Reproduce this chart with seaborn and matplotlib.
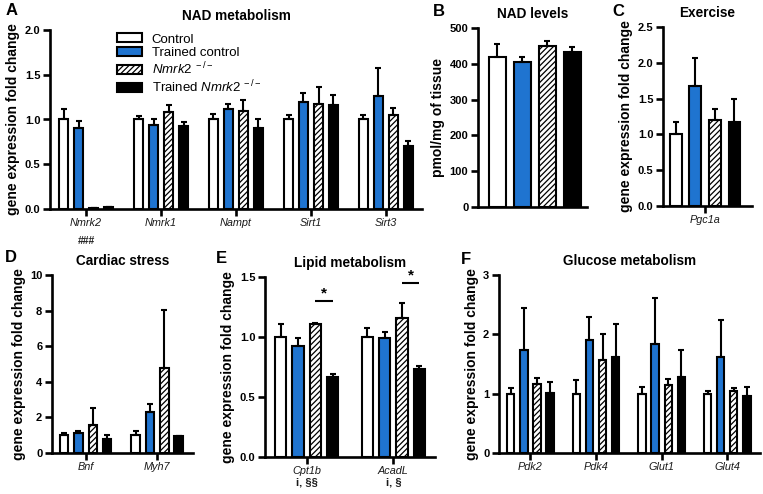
import matplotlib
matplotlib.use("Agg")
import matplotlib.pyplot as plt
from matplotlib.patches import Patch
from matplotlib.transforms import blended_transform_factory
import numpy as np
import pandas as pd
import seaborn as sns

sns.set_theme(style="ticks")
plt.rcParams["font.family"] = ["Liberation Sans", "DejaVu Sans"]
plt.rcParams["mathtext.fontset"] = "custom"
plt.rcParams["mathtext.rm"] = "Liberation Sans"
plt.rcParams["mathtext.it"] = "Liberation Sans:italic"
plt.rcParams["mathtext.bf"] = "Liberation Sans:bold"
plt.rcParams["hatch.linewidth"] = 0.9
plt.rcParams["hatch.color"] = "black"
for k in ["text.color", "axes.labelcolor", "xtick.color", "ytick.color"]:
    plt.rcParams[k] = "black"

# ---------------- data ----------------
groups = ["Control", "Trained control", "Nmrk2 -/-", "Trained Nmrk2 -/-"]
legend_labels = ["Control", "Trained control",
                 r"$\mathit{Nmrk2}^{\ -/-}$", r"Trained $\mathit{Nmrk2}^{\ -/-}$"]
bar_colors = ["#ffffff", "#1f74d0", "#ffffff", "#000000"]
hatches = ["", "", "//////", ""]

# A: NAD metabolism
genes_a = ["Nmrk2", "Nmrk1", "Nampt", "Sirt1", "Sirt3"]
a_ctrl = [1.00, 1.00, 1.00, 1.00, 1.00]
a_tc = [0.91, 0.94, 1.12, 1.20, 1.26]
a_ko = [0.012, 1.08, 1.10, 1.17, 1.05]
a_tko = [0.02, 0.93, 0.90, 1.16, 0.70]
a_ctrl_err = [0.12, 0.04, 0.06, 0.05, 0.05]
a_tc_err = [0.07, 0.065, 0.05, 0.10, 0.31]
a_ko_err = [0.004, 0.08, 0.12, 0.19, 0.08]
a_tko_err = [0.005, 0.04, 0.10, 0.11, 0.06]

# B: NAD levels
genes_b = ["NAD"]
b_vals = [420, 406, 451, 433]
b_err = [35, 14, 14, 14]

# C: Exercise
genes_c = ["Pgc1a"]
c_vals = [1.00, 1.67, 1.20, 1.18]
c_err = [0.17, 0.40, 0.16, 0.32]

# D: Cardiac stress
genes_d = ["Bnf", "Myh7"]
d_ctrl = [1.00, 1.00]
d_tc = [1.10, 2.30]
d_ko = [1.55, 4.80]
d_tko = [0.78, 0.93]
d_ctrl_err = [0.10, 0.25]
d_tc_err = [0.12, 0.48]
d_ko_err = [0.98, 3.25]
d_tko_err = [0.25, 0.04]

# E: Lipid metabolism
genes_e = ["Cpt1b", "AcadL"]
e_ctrl = [1.00, 1.00]
e_tc = [0.925, 0.995]
e_ko = [1.11, 1.155]
e_tko = [0.67, 0.735]
e_ctrl_err = [0.11, 0.075]
e_tc_err = [0.07, 0.05]
e_ko_err = [0.01, 0.125]
e_tko_err = [0.025, 0.02]
e_notes = ["i, §§", "i, §"]
e_sig_y = [1.30, 1.45]

# F: Glucose metabolism
genes_f = ["Pdk2", "Pdk4", "Glut1", "Glut4"]
f_ctrl = [1.00, 1.00, 1.00, 1.00]
f_tc = [1.74, 1.90, 1.83, 1.62]
f_ko = [1.17, 1.56, 1.14, 1.05]
f_tko = [1.01, 1.62, 1.28, 0.96]
f_ctrl_err = [0.10, 0.23, 0.11, 0.05]
f_tc_err = [0.70, 0.40, 0.78, 0.62]
f_ko_err = [0.09, 0.45, 0.11, 0.05]
f_tko_err = [0.18, 0.56, 0.46, 0.15]

# ---------------- drawing ----------------
fig = plt.figure(figsize=(7.63, 4.94), dpi=100)

SPINE_W = 1.9
TICK_FS = 8.0
LABEL_FS = 10
TITLE_FS = 9.8


def panel(rect, genes, means, errs, ylim, yticks, yfmt, ylabel, title, xlim,
          gap=0.4, show_xticks=True):
    ax = fig.add_axes(rect)
    rows = []
    for g, mlist in zip(groups, means):
        for gene, m in zip(genes, mlist):
            rows.append((gene, g, m))
    df = pd.DataFrame(rows, columns=["gene", "group", "value"])
    sns.barplot(data=df, x="gene", y="value", hue="group", order=genes,
                hue_order=groups, palette=dict(zip(groups, bar_colors)),
                width=0.8, gap=gap, errorbar=None, edgecolor="black",
                linewidth=1.5, saturation=1, legend=False, ax=ax)
    for cont, hatch, elist in zip(ax.containers, hatches, errs):
        for bar, e in zip(cont, elist):
            if hatch:
                bar.set_hatch(hatch)
            x = bar.get_x() + bar.get_width() / 2
            y = bar.get_height()
            ax.errorbar([x], [y], yerr=[[0], [e]], fmt="none", ecolor="black",
                        elinewidth=1.5, capsize=2.3, capthick=1.5, zorder=3)
    ax.set_ylim(*ylim)
    ax.set_xlim(*xlim)
    ax.set_yticks(yticks)
    ax.set_yticklabels([yfmt.format(v) for v in yticks], fontweight="bold",
                       fontsize=TICK_FS)
    if show_xticks:
        ax.set_xticks(range(len(genes)))
        ax.set_xticklabels(genes, style="italic", fontsize=7.8, color="#1a1a1a")
    else:
        ax.set_xticks([])
    ax.set_xlabel("")
    ax.set_ylabel(ylabel, fontweight="bold", fontsize=LABEL_FS, labelpad=3)
    ax.set_title(title, fontweight="bold", fontsize=TITLE_FS, pad=7)
    for s in ["top", "right"]:
        ax.spines[s].set_visible(False)
    for s in ["left", "bottom"]:
        ax.spines[s].set_linewidth(SPINE_W)
        ax.spines[s].set_color("black")
    ax.tick_params(axis="y", length=5, width=SPINE_W, direction="out", pad=2,
                   color="black")
    ax.tick_params(axis="x", length=5, width=SPINE_W, direction="out", pad=1.5,
                   color="black")
    return ax


W, H = 763.0, 494.0


def rect(l, r, t, b):
    return [l / W, (H - b) / H, (r - l) / W, (b - t) / H]


ylab = "gene expression fold change"

axA = panel(rect(50, 422, 30, 209), genes_a, [a_ctrl, a_tc, a_ko, a_tko],
            [a_ctrl_err, a_tc_err, a_ko_err, a_tko_err], (0, 2.0),
            [0, 0.5, 1.0, 1.5, 2.0], "{:.1f}", ylab, "NAD metabolism",
            (-0.48, 4.48), gap=0.38)
handles = [Patch(facecolor=c, edgecolor="black", hatch=h, linewidth=1.5)
           for c, h in zip(bar_colors, hatches)]
axA.legend(handles, legend_labels, loc="upper left", bbox_to_anchor=(0.165, 1.01),
           frameon=False, fontsize=9.5, handlelength=1.9, handleheight=0.65,
           handletextpad=0.75, labelspacing=0.12, borderaxespad=0)
tA = blended_transform_factory(axA.transData, axA.transAxes)
axA.text(0, -0.15, "###", transform=tA, ha="center", va="top", fontsize=7.5,
         fontweight="bold", color="#222222")

axB = panel(rect(478, 587, 28, 207), genes_b, [[v] for v in b_vals],
            [[e] for e in b_err], (0, 500), [0, 100, 200, 300, 400, 500], "{:d}",
            "pmol/mg of tissue", "NAD levels", (-0.452, 0.42), gap=0.32,
            show_xticks=False)

axC = panel(rect(663, 752, 27, 206), genes_c, [[v] for v in c_vals],
            [[e] for e in c_err], (0, 2.5), [0, 0.5, 1.0, 1.5, 2.0, 2.5],
            "{:.1f}", ylab, "Exercise", (-0.43, 0.48), gap=0.4)

axD = panel(rect(52, 193, 275, 453), genes_d, [d_ctrl, d_tc, d_ko, d_tko],
            [d_ctrl_err, d_tc_err, d_ko_err, d_tko_err], (0, 10),
            [0, 2, 4, 6, 8, 10], "{:d}", ylab, "Cardiac stress", (-0.47, 1.5),
            gap=0.4)

axE = panel(rect(265, 435, 277, 457), genes_e, [e_ctrl, e_tc, e_ko, e_tko],
            [e_ctrl_err, e_tc_err, e_ko_err, e_tko_err], (0, 1.5),
            [0, 0.5, 1.0, 1.5], "{:.1f}", ylab, "Lipid metabolism", (-0.48, 1.48),
            gap=0.36)
tE = blended_transform_factory(axE.transData, axE.transAxes)
for i, note in enumerate(e_notes):
    axE.text(i, -0.115, note, transform=tE, ha="center", va="top", fontsize=8,
             fontweight="bold", color="#1a1a1a")
    b_ko = axE.containers[2][i]
    b_tko = axE.containers[3][i]
    x1 = b_ko.get_x() + b_ko.get_width() / 2
    x2 = b_tko.get_x() + b_tko.get_width() / 2
    axE.plot([x1, x2], [e_sig_y[i], e_sig_y[i]], color="black", lw=1.5,
             solid_capstyle="butt")
    axE.text((x1 + x2) / 2, e_sig_y[i] + 0.005, "*", ha="center", va="bottom",
             fontsize=11, fontweight="bold")

axF = panel(rect(499, 760, 275, 453), genes_f, [f_ctrl, f_tc, f_ko, f_tko],
            [f_ctrl_err, f_tc_err, f_ko_err, f_tko_err], (0, 3), [0, 1, 2, 3],
            "{:d}", ylab, "Glucose metabolism", (-0.48, 3.5), gap=0.44)

letters = [("A", 6, 3), ("B", 433, 4), ("C", 612, 4), ("D", 5, 250),
           ("E", 216, 251), ("F", 461, 252)]
for lt, x, y in letters:
    fig.text(x / W, 1 - y / H, lt, fontsize=12, fontweight="bold", ha="left",
             va="top")

fig.savefig("out.png", dpi=100)
